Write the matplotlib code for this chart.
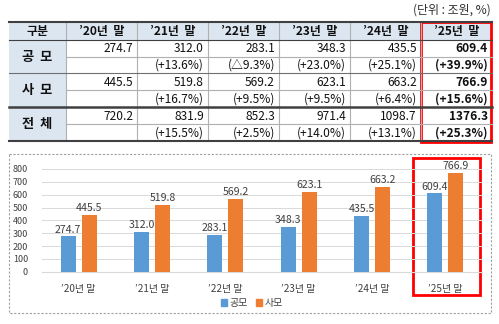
import numpy as np
import matplotlib.pyplot as plt
from matplotlib.patches import Rectangle

plt.rcParams['font.family'] = ['Noto Sans CJK KR', 'DejaVu Sans']

# data
years = ["’20년 말", "’21년 말", "’22년 말", "’23년 말", "’24년 말", "’25년 말"]
public = [274.7, 312.0, 283.1, 348.3, 435.5, 609.4]
private = [445.5, 519.8, 569.2, 623.1, 663.2, 766.9]
total = [720.2, 831.9, 852.3, 971.4, 1098.7, 1376.3]
public_chg = ["", "(+13.6%)", "(△9.3%)", "(+23.0%)", "(+25.1%)", "(+39.9%)"]
private_chg = ["", "(+16.7%)", "(+9.5%)", "(+9.5%)", "(+6.4%)", "(+15.6%)"]
total_chg = ["", "(+15.5%)", "(+2.5%)", "(+14.0%)", "(+13.1%)", "(+25.3%)"]
row_names = ["공  모", "사  모", "전  체"]

W, H = 499, 324
fig = plt.figure(figsize=(W / 100, H / 100), dpi=100)
fig.patch.set_facecolor("white")

# overlay axes in pixel coords for the table
ov = fig.add_axes([0, 0, 1, 1])
ov.set_xlim(0, W)
ov.set_ylim(H, 0)
ov.axis("off")

xs = [9, 66, 137, 208, 279, 350, 421, 492]
ys = [22, 40, 57, 73, 90, 107, 124, 141]
hdr_bg = "#dce6f1"
dark = "#404040"
light = "#b0b0b0"
txt = "#111111"
fs = 8.6

ov.text(491, 10, "(단위 : 조원, %)", ha="right", va="center", fontsize=fs, color="#303030")

# header / first-column background
ov.add_patch(Rectangle((xs[0], ys[0]), xs[-1] - xs[0], ys[1] - ys[0], color=hdr_bg, lw=0))
ov.add_patch(Rectangle((xs[0], ys[1]), xs[1] - xs[0], ys[-1] - ys[1], color=hdr_bg, lw=0))

# vertical lines
for x in xs[1:-1]:
    ov.plot([x, x], [ys[0], ys[-1]], color=light, lw=0.8)

# horizontal lines
ov.plot([xs[0], xs[-1]], [ys[0], ys[0]], color=dark, lw=1.5)
ov.plot([xs[0], xs[-1]], [ys[1], ys[1]], color=dark, lw=0.8)
ov.plot([xs[0], xs[-1]], [ys[3], ys[3]], color="#707070", lw=0.8)
ov.plot([xs[0], xs[-1]], [ys[5], ys[5]], color=dark, lw=1.8)
ov.plot([xs[0], xs[-1]], [ys[7], ys[7]], color=dark, lw=1.5)
for y in (ys[2], ys[4], ys[6]):
    ov.plot([xs[1], xs[-1]], [y, y], color=light, lw=0.8)

# header text
ov.text((xs[0] + xs[1]) / 2, (ys[0] + ys[1]) / 2, "구분", ha="center", va="center",
        fontsize=fs, fontweight="bold", color=txt)
for i, yr in enumerate(years):
    ov.text((xs[i + 1] + xs[i + 2]) / 2, (ys[0] + ys[1]) / 2, yr.replace("년 ", "년  "),
            ha="center", va="center", fontsize=fs, fontweight="bold", color=txt)

# body
rows = [(public, public_chg), (private, private_chg), (total, total_chg)]
for r, (vals, chg) in enumerate(rows):
    y0 = ys[1 + 2 * r]
    y1 = ys[2 + 2 * r]
    y2 = ys[3 + 2 * r]
    ov.text((xs[0] + xs[1]) / 2, y1, row_names[r], ha="center", va="center",
            fontsize=9.5, fontweight="bold", color=txt)
    for i in range(6):
        bold = "bold" if i == 5 else "normal"
        ov.text(xs[i + 2] - 4, (y0 + y1) / 2 + 0.5, f"{vals[i]:.1f}", ha="right", va="center",
                fontsize=fs, fontweight=bold, color=txt)
        if chg[i]:
            ov.text(xs[i + 2] - 4, (y1 + y2) / 2 + 0.5, chg[i], ha="right", va="center",
                    fontsize=fs, fontweight=bold, color=txt)

# red box on table
ov.add_patch(Rectangle((421, 22), 70, 120, fill=False, ec="#ff0000", lw=2))

# chart frame
ov.add_patch(Rectangle((9, 154), 482, 159, fill=False, ec="#a0a0a0", lw=0.8, ls=(0, (2, 1.5))))
ov.add_patch(Rectangle((413, 158), 67, 137, fill=False, ec="#ff0000", lw=2))

# bar chart
ax = fig.add_axes([42 / W, 1 - 271.7 / H, 440 / W, (271.7 - 169) / H])
x = np.arange(len(years))
bw = 0.205
c_pub = "#5b9bd5"
c_pri = "#ed7d31"
ax.bar(x - 0.143, public, bw, color=c_pub, zorder=3)
ax.bar(x + 0.143, private, bw, color=c_pri, zorder=3)
for i in range(len(years)):
    ax.text(x[i] - 0.143, public[i] + 15, f"{public[i]:.1f}", ha="center", va="bottom",
            fontsize=7.6, color="#404040")
    ax.text(x[i] + 0.143, private[i] + 15, f"{private[i]:.1f}", ha="center", va="bottom",
            fontsize=7.6, color="#404040")
ax.set_xlim(-0.5, len(years) - 0.5)
ax.set_ylim(0, 800)
ax.set_yticks(range(0, 801, 100))
ax.yaxis.grid(True, color="#d9d9d9", lw=0.7, zorder=0)
ax.set_xticks(x)
ax.set_xticklabels(years)
ax.tick_params(axis="x", length=0, labelsize=7.2, colors="#404040", pad=9)
ax.tick_params(axis="y", length=0, labelsize=6.5, colors="#404040", pad=10)
for s in ["top", "right", "left"]:
    ax.spines[s].set_visible(False)
ax.spines["bottom"].set_color("#d9d9d9")
ax.set_facecolor("none")

handles = [Rectangle((0, 0), 1, 1, color=c_pub), Rectangle((0, 0), 1, 1, color=c_pri)]
fig.legend(handles, ["공모", "사모"], loc="center", bbox_to_anchor=(252 / W, 1 - 303 / H),
           ncol=2, frameon=False, fontsize=7.2, handlelength=0.6, handleheight=0.6,
           handletextpad=0.3, columnspacing=0.8, labelcolor="#404040")

fig.savefig("out.png", dpi=100)
